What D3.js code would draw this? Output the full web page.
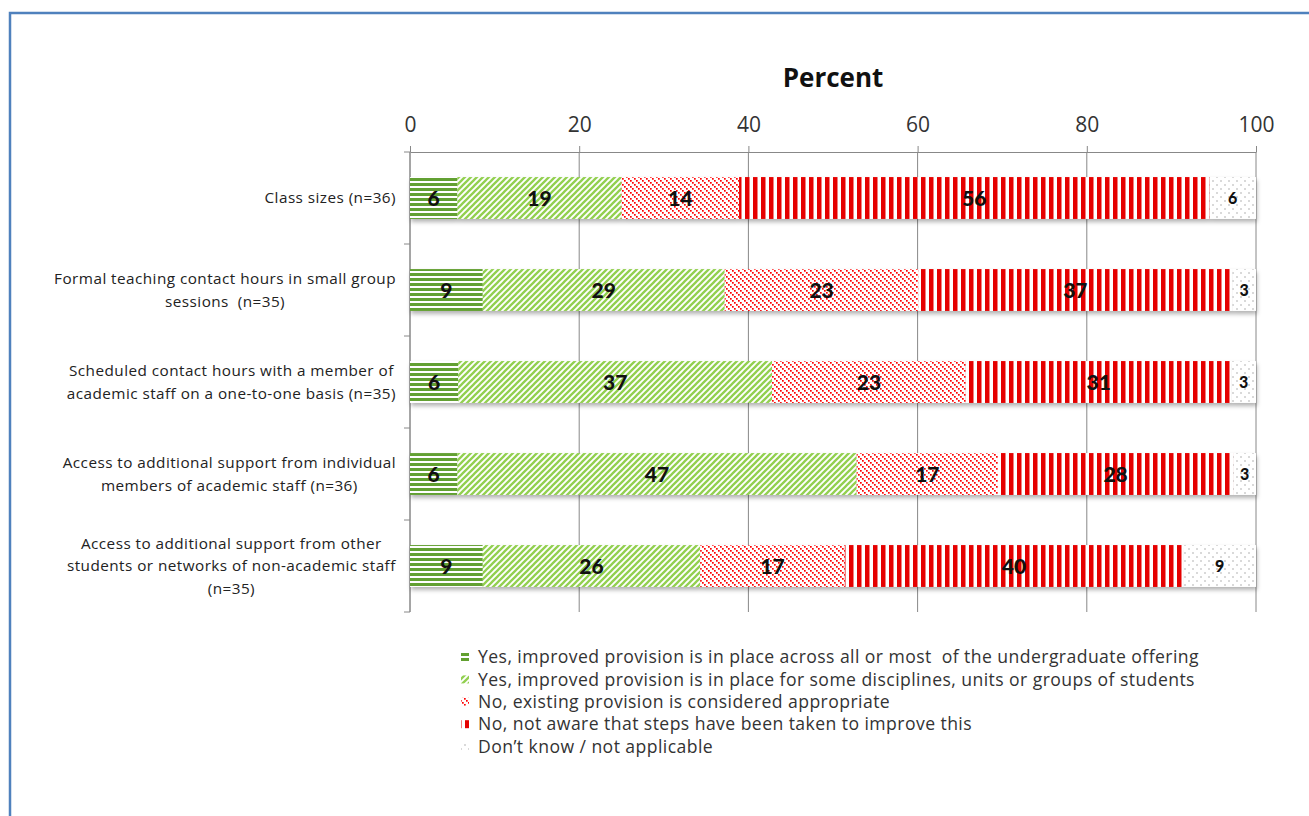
<!DOCTYPE html>
<html><head><meta charset="utf-8">
<script src="https://cdn.jsdelivr.net/npm/d3@7"></script>
<style>
body{margin:0;background:#fff;}
svg{display:block;}
</style></head>
<body>
<svg id="chart" width="1309" height="816"></svg>
<script>
const categories = [
  ["Class sizes (n=36)"],
  ["Formal teaching contact hours in small group", "sessions  (n=35)"],
  ["Scheduled contact hours with a member of", "academic staff on a one-to-one basis (n=35)"],
  ["Access to additional support from individual", "members of academic staff (n=36)"],
  ["Access to additional support from other", "students or networks of non-academic staff", "(n=35)"]
];
const seriesNames = [
  "Yes, improved provision is in place across all or most  of the undergraduate offering",
  "Yes, improved provision is in place for some disciplines, units or groups of students",
  "No, existing provision is considered appropriate",
  "No, not aware that steps have been taken to improve this",
  "Don\u2019t know / not applicable"
];
const yesAll      = [5.6, 8.6, 5.7, 5.6, 8.6];
const yesSome     = [19.4, 28.6, 37.1, 47.2, 25.7];
const noAppropriate = [13.9, 22.9, 22.9, 16.7, 17.1];
const noNotAware  = [55.6, 37.1, 31.4, 27.8, 40.0];
const dontKnow    = [5.6, 2.9, 2.9, 2.8, 8.6];
const xTicks = [0, 20, 40, 60, 80, 100];

(function(){
const series = [yesAll, yesSome, noAppropriate, noNotAware, dontKnow];
const svg = d3.select("#chart");
const FONT = "'Open Sans', Lato, sans-serif";
const BFONT = "Lato, 'Open Sans', sans-serif";

svg.append("path").attr("d","M10,816 L10,13 L1309,13").attr("fill","none")
  .attr("stroke","#4f81bd").attr("stroke-width",2.5);

const defs = svg.append("defs");
const p0 = defs.append("pattern").attr("id","p0").attr("patternUnits","userSpaceOnUse").attr("width",6).attr("height",5).attr("y",178);
p0.append("rect").attr("width",6).attr("height",5).attr("fill","#fff");
p0.append("rect").attr("width",6).attr("height",3).attr("fill","#62a030");

const p1 = defs.append("pattern").attr("id","p1").attr("patternUnits","userSpaceOnUse").attr("width",6).attr("height",6);
p1.append("rect").attr("width",6).attr("height",6).attr("fill","#fff");
p1.append("path").attr("d","M-1.5,1.5 L1.5,-1.5 M0,6 L6,0 M4.5,7.5 L7.5,4.5").attr("stroke","#92d050").attr("stroke-width",2.3);

const p2 = defs.append("pattern").attr("id","p2").attr("patternUnits","userSpaceOnUse").attr("width",6).attr("height",6);
p2.append("rect").attr("width",6).attr("height",6).attr("fill","#fff");
[[0,0],[2,2],[4,4]].forEach(([a,b])=>p2.append("rect").attr("x",a).attr("y",b).attr("width",1.7).attr("height",1.7).attr("fill","#ff0000"));

const p3 = defs.append("pattern").attr("id","p3").attr("patternUnits","userSpaceOnUse").attr("width",8).attr("height",8).attr("x",1);
p3.append("rect").attr("width",8).attr("height",8).attr("fill","#fff");
p3.append("rect").attr("width",4.5).attr("height",8).attr("fill","#e50000");

const p4 = defs.append("pattern").attr("id","p4").attr("patternUnits","userSpaceOnUse").attr("width",8).attr("height",8);
p4.append("rect").attr("width",8).attr("height",8).attr("fill","#fff");
p4.append("circle").attr("cx",1).attr("cy",1).attr("r",0.8).attr("fill","#aaa");
p4.append("circle").attr("cx",5).attr("cy",5).attr("r",0.8).attr("fill","#aaa");

const fills = ["url(#p0)","url(#p1)","url(#p2)","url(#p3)","url(#p4)"];

const f = defs.append("filter").attr("id","sh").attr("x","-5%").attr("y","-20%").attr("width","110%").attr("height","160%");
f.append("feDropShadow").attr("dx",1).attr("dy",3).attr("stdDeviation",2).attr("flood-color","#000").attr("flood-opacity",0.3);

const L = 410, R = 1256, T = 152, B = 612;
const x = d3.scaleLinear().domain([0,100]).range([L,R]);
const y = d3.scaleBand().domain(d3.range(categories.length)).range([T,B]).paddingInner(0.545).paddingOuter(0.2725);

svg.append("g").selectAll("line").data(xTicks).join("line")
  .attr("x1",d=>x(d)).attr("x2",d=>x(d)).attr("y1",T).attr("y2",B)
  .attr("stroke","#888").attr("stroke-width",1);

const xAxis = d3.axisTop(x).tickValues(xTicks).tickSize(6).tickSizeOuter(0).tickPadding(14);
const gx = svg.append("g").attr("transform",`translate(0,${T})`).call(xAxis);
gx.select(".domain").attr("stroke","#888");
gx.selectAll(".tick line").attr("stroke","#888");
gx.selectAll(".tick text").attr("font-family",FONT).attr("font-size",21).attr("fill","#333");

svg.append("text").attr("x",(L+R)/2).attr("y",87).attr("text-anchor","middle")
  .attr("font-family",FONT).attr("font-weight","bold").attr("font-size",26).attr("fill","#111").text("Percent");

svg.append("line").attr("x1",L).attr("x2",L).attr("y1",T).attr("y2",B).attr("stroke","#888");
const boundaries = d3.range(categories.length+1).map(i=>T + i*(B-T)/categories.length);
svg.append("g").selectAll("line").data(boundaries).join("line")
  .attr("x1",L-6).attr("x2",L).attr("y1",d=>d).attr("y2",d=>d).attr("stroke","#888");

const stacked = categories.map((c,i)=>{
  let acc = 0;
  return series.map((s,k)=>{ const v = s[i]; const seg = {i,k,x0:acc,x1:acc+v,v}; acc+=v; return seg; });
});
const rows = svg.append("g").selectAll("g.row").data(stacked).join("g").attr("class","row").attr("filter","url(#sh)");
rows.selectAll("rect").data(d=>d).join("rect")
  .attr("x",d=>x(d.x0)).attr("width",d=>x(Math.min(d.x1,100))-x(d.x0))
  .attr("y",d=>y(d.i)).attr("height",y.bandwidth())
  .attr("fill",d=>fills[d.k]);

svg.append("g").selectAll("text").data(stacked.flat()).join("text")
  .attr("x",d=>(x(d.x0)+x(Math.min(d.x1,100)))/2)
  .attr("y",d=>y(d.i)+y.bandwidth()/2)
  .attr("dy","0.36em").attr("text-anchor","middle")
  .attr("font-family",BFONT).attr("font-weight","900")
  .attr("font-size",d=>d.k===4?16:21).attr("fill","#111")
  .text(d=>Math.round(d.v));

const catG = svg.append("g");
categories.forEach((lines,i)=>{
  const cy = y(i)+y.bandwidth()/2;
  const lh = 22.5;
  const t = catG.append("text").attr("font-family",FONT).attr("font-size",15.3).attr("fill","#222")
    .attr("letter-spacing",0.45).attr("text-anchor","middle").style("white-space","pre");
  lines.forEach((ln,j)=>{
    t.append("tspan").attr("x",0).attr("y",cy + (j-(lines.length-1)/2)*lh).attr("dy","0.35em").text(ln);
  });
  const w = t.node().getBBox().width;
  t.attr("transform",`translate(${396 - w/2},0)`);
});

const lg = svg.append("g");
seriesNames.forEach((n,k)=>{
  const cy = 657 + k*22.4;
  lg.append("rect").attr("x",461).attr("y",cy-4).attr("width",8).attr("height",8).attr("fill",fills[k]);
  lg.append("text").attr("x",478).attr("y",cy).attr("dy","0.35em").attr("font-family",FONT)
    .attr("font-size",17.6).attr("letter-spacing",0.43).attr("fill","#333").style("white-space","pre").text(n);
});
})();
</script>
</body></html>
